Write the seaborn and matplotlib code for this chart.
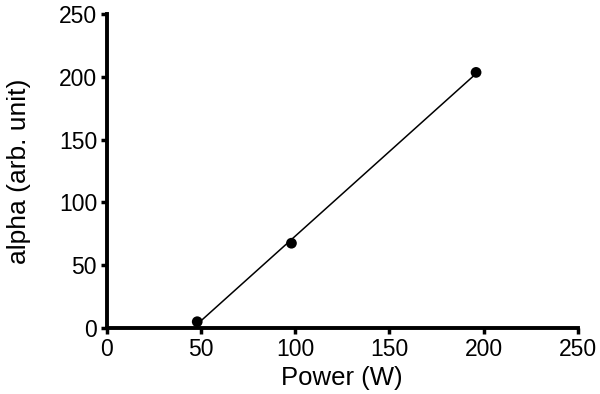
import numpy as np
import pandas as pd
import seaborn as sns
import matplotlib
matplotlib.use("Agg")
import matplotlib.pyplot as plt

# data
power = [48, 98, 196]
alpha = [5, 67.5, 203.5]
x_ticks = [0, 50, 100, 150, 200, 250]
y_ticks = [0, 50, 100, 150, 200, 250]

df = pd.DataFrame({"Power (W)": power, "alpha (arb. unit)": alpha})

sns.set_theme(style="ticks")
plt.rcParams['font.family'] = ['Liberation Sans', 'DejaVu Sans']

fig = plt.figure(figsize=(6, 3.94), dpi=100)
ax = fig.add_axes([0.178, 0.1675, 0.785, 0.797])

sns.regplot(x="Power (W)", y="alpha (arb. unit)", data=df, ci=None, truncate=True,
            ax=ax, color="black",
            scatter_kws={"s": 60, "edgecolor": "none", "alpha": 1, "zorder": 3},
            line_kws={"linewidth": 1.1})

ax.set_xlim(0, 250)
ax.set_ylim(0, 250)
ax.set_xticks(x_ticks)
ax.set_yticks(y_ticks)
ax.tick_params(direction="out", length=4, width=2.5, labelsize=16.5, pad=3,
               color="black", labelcolor="black")
for s in ["left", "bottom"]:
    ax.spines[s].set_linewidth(2.8)
    ax.spines[s].set_color("black")
ax.spines["top"].set_visible(False)
ax.spines["right"].set_visible(False)
for lbl in ax.get_xticklabels() + ax.get_yticklabels():
    lbl.set_clip_on(False)
ax.set_xlabel("Power (W)", fontsize=18.5, labelpad=4, color="black")
ax.set_ylabel("alpha (arb. unit)", fontsize=19, labelpad=20, color="black")

fig.savefig("out.png", dpi=100)
